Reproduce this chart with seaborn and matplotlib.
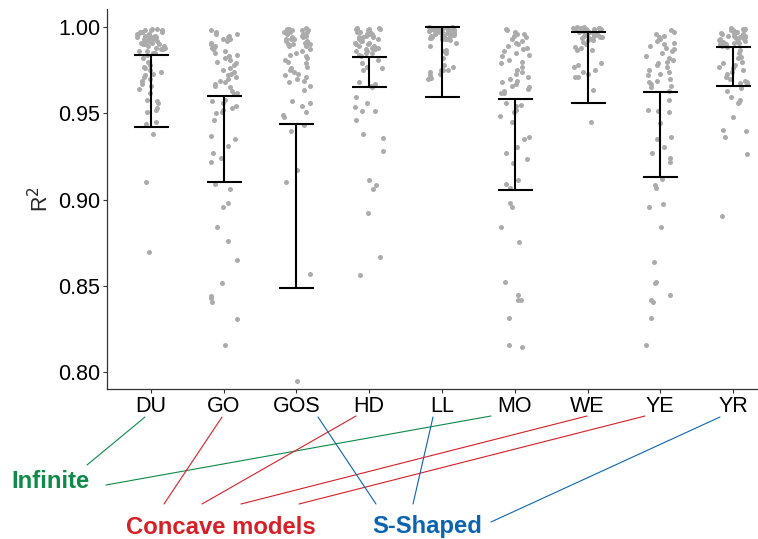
import numpy as np
import pandas as pd
import seaborn as sns
import matplotlib.pyplot as plt
from matplotlib.lines import Line2D

# R2 values per model
du = [0.999, 0.999, 0.998, 0.998, 0.998, 0.997, 0.997, 0.997, 0.996, 0.996, 0.996, 0.995, 0.995,
      0.995, 0.994, 0.994, 0.994, 0.993, 0.993, 0.993, 0.992, 0.992, 0.992, 0.991, 0.991, 0.990,
      0.990, 0.990, 0.989, 0.989, 0.988, 0.988, 0.987, 0.987, 0.986, 0.986, 0.985, 0.985,
      0.984, 0.982, 0.980, 0.978, 0.977, 0.976, 0.975, 0.974, 0.973, 0.972, 0.971, 0.970, 0.969,
      0.967, 0.966, 0.964, 0.962, 0.958, 0.957, 0.956, 0.953, 0.952, 0.951, 0.945, 0.944, 0.938,
      0.910, 0.870]
go = [0.998, 0.997, 0.996, 0.996, 0.995, 0.994, 0.993, 0.993, 0.992, 0.991, 0.990, 0.989, 0.988,
      0.988, 0.987, 0.986, 0.985, 0.984, 0.983, 0.982, 0.981, 0.980, 0.979, 0.978, 0.976, 0.975,
      0.974, 0.973, 0.972, 0.971, 0.970, 0.969, 0.968, 0.967, 0.966, 0.965, 0.963, 0.962, 0.961,
      0.958, 0.957, 0.956, 0.954, 0.953, 0.952, 0.951, 0.950, 0.946, 0.937, 0.935, 0.931, 0.927,
      0.924, 0.922, 0.909, 0.906, 0.898, 0.896, 0.884, 0.876, 0.865, 0.852, 0.844, 0.843, 0.841,
      0.831, 0.816]
gos = [0.9995, 0.999, 0.999, 0.998, 0.998, 0.998, 0.997, 0.997, 0.997, 0.996, 0.996, 0.995, 0.995,
       0.995, 0.994, 0.994, 0.993, 0.993, 0.993, 0.992, 0.992, 0.991, 0.991, 0.990, 0.990, 0.990,
       0.989, 0.989, 0.987, 0.986, 0.985, 0.984, 0.983, 0.982, 0.981, 0.980, 0.979, 0.977, 0.976,
       0.975, 0.974, 0.973, 0.972, 0.971, 0.970, 0.969, 0.968, 0.966, 0.9635, 0.957, 0.956, 0.954,
       0.951, 0.949, 0.948, 0.943, 0.940, 0.917, 0.910, 0.857, 0.795]
hd = [0.9996, 0.9995, 0.999, 0.999, 0.999, 0.998, 0.998, 0.998, 0.997, 0.997, 0.997, 0.996, 0.996,
      0.996, 0.995, 0.995, 0.994, 0.994, 0.994, 0.993, 0.993, 0.992, 0.992, 0.991, 0.991, 0.990,
      0.990, 0.989, 0.989, 0.988, 0.988, 0.987, 0.987, 0.986, 0.986, 0.985, 0.985,
      0.984, 0.983, 0.981, 0.979, 0.977, 0.976, 0.975, 0.968, 0.967, 0.966, 0.9655,
      0.9596, 0.9562, 0.9535, 0.9516, 0.9514, 0.9462, 0.9379, 0.9355, 0.9282, 0.9114, 0.9085,
      0.9062, 0.8921, 0.867, 0.8564]
ll = [0.9998, 0.9997, 0.9996, 0.9995, 0.9994, 0.9993, 0.9992, 0.999, 0.999, 0.9988, 0.9987,
      0.9985, 0.9984, 0.9982, 0.998, 0.998, 0.9978, 0.9976, 0.9975, 0.9973, 0.997, 0.997, 0.9968,
      0.9966, 0.9965, 0.9963, 0.996, 0.996, 0.9958, 0.9955, 0.9953, 0.995, 0.995, 0.9948, 0.9945,
      0.9943, 0.994, 0.9938, 0.9935, 0.9933, 0.993, 0.9928, 0.9926,
      0.9906, 0.989, 0.9867, 0.986, 0.9848, 0.9819, 0.978, 0.977, 0.975, 0.975, 0.975, 0.974,
      0.973, 0.972, 0.9703, 0.970]
mo = [0.999, 0.998, 0.997, 0.996, 0.996, 0.995, 0.994, 0.993, 0.992, 0.991, 0.990, 0.989, 0.988,
      0.987, 0.986, 0.985, 0.984, 0.983, 0.981, 0.980, 0.979, 0.977, 0.975, 0.974, 0.973, 0.971,
      0.970, 0.969, 0.968, 0.967, 0.966, 0.965, 0.964, 0.963, 0.962, 0.9617,
      0.9558, 0.955, 0.954, 0.952, 0.951, 0.9485, 0.9452, 0.9365, 0.935, 0.9307, 0.9269, 0.9234,
      0.9211, 0.9114, 0.909, 0.9066, 0.898, 0.8956, 0.8844, 0.8753, 0.8525, 0.8448, 0.8419,
      0.8418, 0.8317, 0.8156, 0.815]
we = [0.9998, 0.9997, 0.9996, 0.9995, 0.9994, 0.9993, 0.9992, 0.999, 0.999, 0.9988, 0.9986,
      0.9985, 0.9983, 0.998, 0.998, 0.9978, 0.9976, 0.9974, 0.9972, 0.997, 0.9968, 0.9965, 0.9963,
      0.996, 0.996, 0.9957, 0.9955, 0.9952, 0.995, 0.9947, 0.9944, 0.994, 0.9937, 0.9934, 0.993,
      0.9927, 0.9925,
      0.9915, 0.990, 0.9886, 0.988, 0.9867, 0.9865, 0.979, 0.978, 0.977, 0.975, 0.974, 0.973,
      0.9712, 0.971, 0.9635, 0.9448]
ye = [0.998, 0.997, 0.996, 0.995, 0.994, 0.993, 0.992, 0.991, 0.990, 0.989, 0.988, 0.987, 0.986,
      0.985, 0.983, 0.982, 0.981, 0.980, 0.979, 0.978, 0.977, 0.975, 0.974, 0.973, 0.972, 0.970,
      0.969, 0.968, 0.967, 0.966, 0.965, 0.963,
      0.9577, 0.9519, 0.9515, 0.951, 0.9442, 0.9365, 0.935, 0.9307, 0.9269, 0.924, 0.922, 0.9118,
      0.9085, 0.9066, 0.8975, 0.896, 0.8844, 0.8641, 0.8525, 0.852, 0.8448, 0.8419, 0.841,
      0.8313, 0.8159]
yr = [0.9995, 0.999, 0.999, 0.9985, 0.998, 0.998, 0.9975, 0.997, 0.997, 0.9965, 0.996, 0.996,
      0.9955, 0.995, 0.995, 0.9945, 0.994, 0.994, 0.9935, 0.993, 0.993, 0.9925, 0.992, 0.992,
      0.9915, 0.991, 0.991, 0.9905, 0.990, 0.990, 0.9895, 0.989, 0.9886,
      0.9867, 0.985, 0.9828, 0.982, 0.980, 0.979, 0.978, 0.977, 0.976, 0.975, 0.974, 0.973,
      0.9712, 0.970, 0.969, 0.968, 0.9674, 0.967, 0.9645, 0.963, 0.9596, 0.958, 0.9567, 0.956,
      0.948, 0.9404, 0.940, 0.9365, 0.9265, 0.8906]

models = ['DU', 'GO', 'GOS', 'HD', 'LL', 'MO', 'WE', 'YE', 'YR']
values = [du, go, gos, hd, ll, mo, we, ye, yr]

# error bar ends
bar_low = [0.942, 0.910, 0.849, 0.9655, 0.9597, 0.9055, 0.9558, 0.9133, 0.9658]
bar_high = [0.984, 0.960, 0.944, 0.9826, 1.000, 0.9583, 0.9973, 0.9625, 0.9886]

rows = []
for m, vals in zip(models, values):
    for v in vals:
        rows.append({'model': m, 'r2': v})
df = pd.DataFrame(rows)

sns.set_style('white')
plt.rcParams['font.family'] = ['Liberation Sans', 'DejaVu Sans']

W, H = 758, 539
fig = plt.figure(figsize=(W / 100, H / 100), dpi=100)
ax = fig.add_axes([107 / W, 1 - 389 / H, (W - 107) / W, (389 - 9) / H])

np.random.seed(3)  # only for the horizontal jitter
sns.stripplot(data=df, x='model', y='r2', order=models, color='#ABABAB', size=3.6,
              jitter=0.2, linewidth=0, ax=ax, zorder=1)

mid = [(lo + hi) / 2 for lo, hi in zip(bar_low, bar_high)]
half = [(hi - lo) / 2 for lo, hi in zip(bar_low, bar_high)]
ax.errorbar(x=np.arange(len(models)), y=mid, yerr=half, fmt='none', ecolor='black',
            elinewidth=1.5, capsize=12.6, capthick=1.5, zorder=3)

ax.set_xlim(-0.604, 8.343)
ax.set_ylim(0.7904, 1.0104)
ax.set_yticks([0.80, 0.85, 0.90, 0.95, 1.00])
ax.set_yticklabels(['0.80', '0.85', '0.90', '0.95', '1.00'])
ax.set_xlabel('')
ax.set_ylabel('R$^2$', fontsize=15.5)
ax.yaxis.set_label_coords(-0.083, 0.5)

for side in ['top', 'right']:
    ax.spines[side].set_visible(False)
for side in ['left', 'bottom']:
    ax.spines[side].set_color('#333333')
    ax.spines[side].set_linewidth(0.9)
ax.tick_params(axis='both', which='major', length=3, width=0.8, color='#333333',
               labelsize=15.5, labelcolor='black', pad=2, left=True, bottom=True)

# group annotations below the axis
green, red, blue = '#0E8A4A', '#D62027', '#0B64B0'


def px(x, y):
    return x / W, 1 - y / H


fig.text(*px(11, 481), 'Infinite', color=green, fontsize=17.2, fontweight='bold', va='center')
fig.text(*px(126, 527), 'Concave models', color=red, fontsize=17.2, fontweight='bold', va='center')
fig.text(*px(372, 527), 'S-Shaped', color=blue, fontsize=17.2, fontweight='bold', va='center')

links = [
    ((145, 417), (87, 465), green),
    ((491, 416), (106, 485), green),
    ((222, 417), (164, 504), red),
    ((356, 416), (202, 504), red),
    ((587, 416), (241, 504), red),
    ((645, 416), (299, 504), red),
    ((318, 417), (376, 504), blue),
    ((433, 417), (413, 504), blue),
    ((720, 417), (491, 522), blue),
]
for (x0, y0), (x1, y1), c in links:
    a, b = px(x0, y0), px(x1, y1)
    fig.add_artist(Line2D([a[0], b[0]], [a[1], b[1]], color=c, linewidth=0.8))

fig.savefig('out.png', dpi=100)
